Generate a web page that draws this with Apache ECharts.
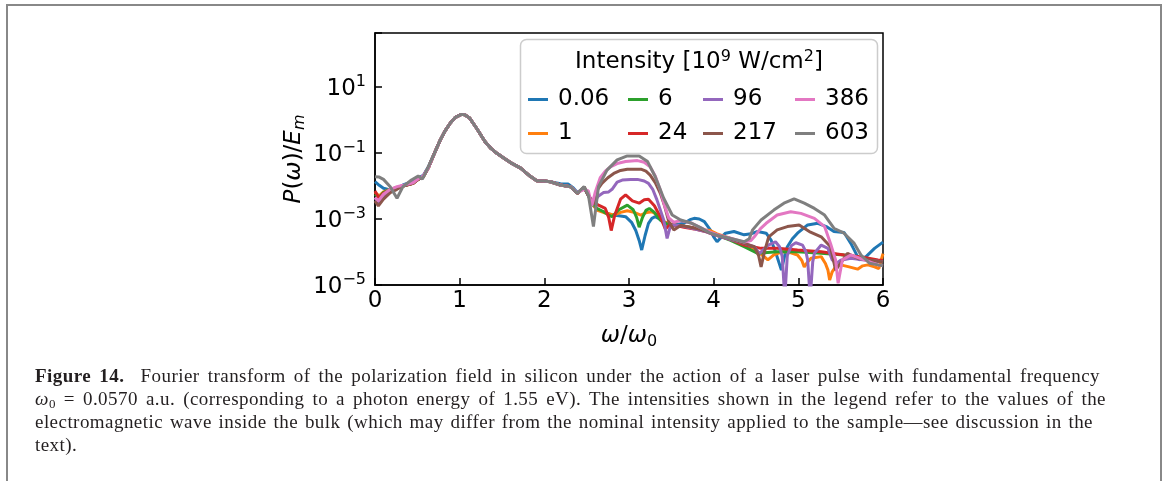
<!DOCTYPE html>
<html>
<head>
<meta charset="utf-8">
<script src="https://cdn.jsdelivr.net/npm/echarts@6/dist/echarts.min.js"></script>
<style>
  html, body { margin: 0; padding: 0; background: #fff; }
  #wrap { position: relative; width: 1165px; height: 481px; overflow: hidden; }
  #frame { position: absolute; left: 6px; top: 4px; width: 1152px; height: 520px; border: 2px solid #888; border-bottom: none; }
  #chart { position: absolute; left: 0; top: 0; width: 1165px; height: 481px; }
  #cap { position: absolute; left: 35px; top: 364px; font-family: 'Liberation Serif', serif; font-size: 19px; letter-spacing: 0.45px; line-height: 23px; color: #231f20; }
  #cap .ln { display: block; white-space: nowrap; text-align: justify; text-align-last: justify; }
  #cap .last { text-align: left; text-align-last: left; }
  #cap sub { font-size: 13px; vertical-align: -3px; line-height: 0; }
</style>
</head>
<body>
<div id="wrap">
  <div id="frame"></div>
  <div id="chart"></div>
  <div id="cap">
    <span class="ln" style="width:1065px"><b>Figure 14.</b>&nbsp;&nbsp;Fourier transform of the polarization field in silicon under the action of a laser pulse with fundamental frequency</span>
    <span class="ln" style="width:1071px"><i>ω</i><sub>0</sub> = 0.0570 a.u. (corresponding to a photon energy of 1.55 eV). The intensities shown in the legend refer to the values of the</span>
    <span class="ln" style="width:1058px">electromagnetic wave inside the bulk (which may differ from the nominal intensity applied to the sample—see discussion in the</span>
    <span class="ln last">text).</span>
  </div>
</div>
<script>
// Intensities [10^9 W/cm^2] (legend labels)
const intensities = ['0.06', '1', '6', '24', '96', '217', '386', '603'];
// y-axis tick exponents: labels 10^-5, 10^-3, 10^-1, 10^1
const tickExponents = [-5, -3, -1, 1];

// Each series: [omega/omega0, log10(P(omega)/E_m)]
const I_0_06 = [[0.00,-1.87],[0.05,-1.98],[0.10,-2.07],[0.18,-2.12],[0.26,-2.07],[0.33,-1.97],[0.43,-1.88],[0.51,-1.75],[0.57,-1.68],[0.63,-1.42],[0.70,-1.02],[0.77,-0.61],[0.83,-0.32],[0.89,-0.09],[0.95,0.08],[1.02,0.17],[1.06,0.16],[1.12,0.05],[1.20,-0.25],[1.30,-0.66],[1.37,-0.86],[1.44,-1.01],[1.52,-1.15],[1.60,-1.29],[1.72,-1.46],[1.83,-1.70],[1.91,-1.84],[2.00,-1.85],[2.07,-1.87],[2.19,-1.93],[2.28,-1.94],[2.34,-2.05],[2.39,-2.20],[2.47,-2.05],[2.52,-2.30],[2.58,-2.60],[2.64,-2.73],[2.72,-2.80],[2.80,-2.88],[2.88,-2.90],[2.96,-2.93],[3.03,-3.10],[3.08,-3.35],[3.12,-3.65],[3.15,-3.94],[3.19,-3.50],[3.23,-3.13],[3.27,-2.98],[3.31,-2.93],[3.36,-3.00],[3.41,-3.13],[3.47,-3.18],[3.53,-3.18],[3.65,-3.13],[3.72,-3.02],[3.77,-2.98],[3.83,-3.00],[3.89,-3.08],[3.96,-3.33],[4.00,-3.54],[4.04,-3.69],[4.09,-3.55],[4.14,-3.43],[4.24,-3.38],[4.36,-3.48],[4.44,-3.45],[4.52,-3.38],[4.62,-3.43],[4.68,-3.65],[4.73,-3.99],[4.80,-4.55],[4.84,-4.10],[4.87,-3.84],[4.93,-3.60],[4.99,-3.43],[5.11,-3.18],[5.23,-3.13],[5.33,-3.23],[5.42,-3.38],[5.54,-3.41],[5.62,-3.74],[5.72,-4.24],[5.80,-4.14],[5.90,-3.89],[6.00,-3.70]];
const I_1 = [[0.00,-2.20],[0.05,-2.30],[0.10,-2.18],[0.18,-2.10],[0.26,-2.05],[0.33,-2.00],[0.45,-1.92],[0.51,-1.80],[0.57,-1.72],[0.63,-1.45],[0.70,-1.02],[0.77,-0.61],[0.83,-0.32],[0.89,-0.09],[0.95,0.08],[1.02,0.17],[1.06,0.16],[1.12,0.05],[1.20,-0.25],[1.30,-0.66],[1.37,-0.86],[1.44,-1.01],[1.52,-1.15],[1.60,-1.29],[1.72,-1.46],[1.83,-1.70],[1.91,-1.84],[2.00,-1.85],[2.07,-1.87],[2.19,-1.97],[2.31,-2.02],[2.39,-2.22],[2.47,-2.04],[2.52,-2.28],[2.58,-2.58],[2.62,-2.73],[2.72,-2.82],[2.82,-2.88],[2.90,-2.80],[2.98,-2.75],[3.06,-2.80],[3.14,-2.88],[3.21,-2.80],[3.27,-2.78],[3.35,-2.90],[3.41,-3.08],[3.53,-3.18],[3.65,-3.22],[3.77,-3.27],[3.89,-3.33],[3.96,-3.35],[4.04,-3.45],[4.20,-3.59],[4.36,-3.74],[4.52,-3.99],[4.60,-4.15],[4.64,-4.24],[4.71,-4.09],[4.80,-4.00],[4.87,-3.99],[4.99,-4.09],[5.04,-4.25],[5.07,-4.45],[5.11,-4.30],[5.15,-4.19],[5.27,-4.14],[5.32,-4.35],[5.35,-4.55],[5.37,-4.85],[5.40,-4.60],[5.44,-4.45],[5.50,-4.39],[5.60,-4.45],[5.70,-4.52],[5.76,-4.42],[5.82,-4.39],[5.90,-4.45],[5.95,-4.50],[6.00,-4.05]];
const I_6 = [[0.00,-2.25],[0.05,-2.35],[0.10,-2.20],[0.18,-2.10],[0.26,-2.05],[0.33,-2.00],[0.45,-1.92],[0.51,-1.80],[0.57,-1.72],[0.63,-1.45],[0.70,-1.02],[0.77,-0.61],[0.83,-0.32],[0.89,-0.09],[0.95,0.08],[1.02,0.17],[1.06,0.16],[1.12,0.05],[1.20,-0.25],[1.30,-0.66],[1.37,-0.86],[1.44,-1.01],[1.52,-1.15],[1.60,-1.29],[1.72,-1.46],[1.83,-1.70],[1.91,-1.84],[2.00,-1.85],[2.07,-1.87],[2.19,-1.97],[2.31,-2.02],[2.39,-2.22],[2.47,-2.04],[2.52,-2.28],[2.58,-2.55],[2.62,-2.68],[2.70,-2.78],[2.76,-2.88],[2.80,-2.93],[2.88,-2.72],[2.98,-2.58],[3.05,-2.72],[3.09,-2.95],[3.12,-3.25],[3.16,-2.95],[3.20,-2.74],[3.24,-2.68],[3.30,-2.80],[3.37,-3.03],[3.45,-3.15],[3.53,-3.18],[3.65,-3.22],[3.77,-3.28],[3.89,-3.35],[4.00,-3.45],[4.20,-3.65],[4.36,-3.84],[4.52,-4.04],[4.60,-4.02],[4.75,-3.99],[4.99,-3.99],[5.27,-4.04],[5.54,-4.09],[5.75,-4.18],[5.94,-4.28],[6.00,-4.30]];
const I_24 = [[0.00,-2.15],[0.05,-2.38],[0.10,-2.22],[0.18,-2.12],[0.26,-2.05],[0.33,-2.00],[0.45,-1.92],[0.51,-1.80],[0.57,-1.72],[0.63,-1.45],[0.70,-1.02],[0.77,-0.61],[0.83,-0.32],[0.89,-0.09],[0.95,0.08],[1.02,0.17],[1.06,0.16],[1.12,0.05],[1.20,-0.25],[1.30,-0.66],[1.37,-0.86],[1.44,-1.01],[1.52,-1.15],[1.60,-1.29],[1.72,-1.46],[1.83,-1.70],[1.91,-1.84],[2.00,-1.85],[2.07,-1.87],[2.19,-1.97],[2.31,-2.02],[2.39,-2.22],[2.47,-2.04],[2.52,-2.28],[2.58,-2.50],[2.64,-2.58],[2.72,-2.68],[2.76,-2.95],[2.79,-3.35],[2.83,-2.90],[2.90,-2.40],[2.96,-2.27],[3.04,-2.45],[3.12,-2.52],[3.18,-2.42],[3.23,-2.40],[3.30,-2.60],[3.37,-2.93],[3.43,-3.31],[3.47,-3.20],[3.53,-3.18],[3.65,-3.25],[3.77,-3.30],[3.89,-3.37],[4.00,-3.47],[4.20,-3.62],[4.36,-3.79],[4.56,-3.89],[4.75,-3.89],[4.99,-3.94],[5.27,-3.99],[5.54,-4.09],[5.75,-4.15],[5.94,-4.24],[6.00,-4.26]];
const I_96 = [[0.00,-2.35],[0.04,-2.50],[0.10,-2.30],[0.18,-2.15],[0.26,-2.08],[0.33,-2.00],[0.45,-1.90],[0.51,-1.78],[0.57,-1.70],[0.63,-1.45],[0.70,-1.02],[0.77,-0.61],[0.83,-0.32],[0.89,-0.09],[0.95,0.08],[1.02,0.17],[1.06,0.16],[1.12,0.05],[1.20,-0.25],[1.30,-0.66],[1.37,-0.86],[1.44,-1.01],[1.52,-1.15],[1.60,-1.29],[1.72,-1.46],[1.83,-1.70],[1.91,-1.84],[2.00,-1.85],[2.07,-1.87],[2.19,-1.97],[2.31,-2.02],[2.39,-2.22],[2.47,-2.04],[2.52,-2.28],[2.58,-2.50],[2.64,-2.30],[2.70,-2.20],[2.76,-2.18],[2.80,-2.10],[2.86,-1.88],[2.92,-1.82],[3.02,-1.80],[3.10,-1.80],[3.18,-1.85],[3.23,-1.92],[3.28,-2.10],[3.33,-2.42],[3.38,-2.80],[3.41,-3.03],[3.45,-3.59],[3.48,-3.30],[3.51,-3.18],[3.61,-3.20],[3.77,-3.30],[3.89,-3.37],[4.00,-3.47],[4.20,-3.62],[4.36,-3.74],[4.48,-3.84],[4.54,-4.05],[4.58,-3.95],[4.64,-3.80],[4.73,-3.69],[4.78,-3.85],[4.81,-4.14],[4.84,-5.40],[4.87,-4.10],[4.92,-3.80],[4.97,-3.72],[5.05,-3.79],[5.09,-4.00],[5.11,-4.24],[5.14,-5.40],[5.17,-4.30],[5.19,-4.04],[5.27,-3.79],[5.35,-3.89],[5.40,-4.24],[5.45,-4.35],[5.50,-4.25],[5.62,-4.19],[5.78,-4.24],[5.94,-4.28],[6.00,-4.30]];
const I_217 = [[0.00,-2.45],[0.04,-2.60],[0.10,-2.40],[0.18,-2.20],[0.26,-2.10],[0.33,-2.00],[0.45,-1.92],[0.51,-1.80],[0.57,-1.72],[0.63,-1.45],[0.70,-1.02],[0.77,-0.61],[0.83,-0.32],[0.89,-0.09],[0.95,0.08],[1.02,0.17],[1.06,0.16],[1.12,0.05],[1.20,-0.25],[1.30,-0.66],[1.37,-0.86],[1.44,-1.01],[1.52,-1.15],[1.60,-1.29],[1.72,-1.46],[1.83,-1.70],[1.91,-1.84],[2.00,-1.85],[2.07,-1.87],[2.19,-1.97],[2.31,-2.02],[2.39,-2.22],[2.47,-2.04],[2.52,-2.28],[2.58,-2.55],[2.63,-2.10],[2.68,-1.92],[2.75,-1.75],[2.82,-1.62],[2.90,-1.53],[2.98,-1.49],[3.14,-1.49],[3.20,-1.55],[3.25,-1.67],[3.31,-1.90],[3.37,-2.22],[3.42,-2.60],[3.47,-3.08],[3.53,-3.33],[3.61,-3.20],[3.73,-3.25],[3.85,-3.32],[4.00,-3.45],[4.20,-3.60],[4.36,-3.74],[4.48,-3.84],[4.53,-4.10],[4.56,-4.45],[4.60,-3.99],[4.65,-3.54],[4.75,-3.33],[4.87,-3.23],[5.01,-3.18],[5.13,-3.38],[5.27,-3.54],[5.38,-3.84],[5.44,-4.55],[5.50,-4.34],[5.58,-4.04],[5.70,-4.19],[5.94,-4.28],[6.00,-4.30]];
const I_386 = [[0.00,-2.35],[0.04,-2.45],[0.10,-2.25],[0.18,-2.10],[0.26,-2.02],[0.33,-1.98],[0.45,-1.90],[0.51,-1.78],[0.57,-1.70],[0.63,-1.45],[0.70,-1.02],[0.77,-0.61],[0.83,-0.32],[0.89,-0.09],[0.95,0.08],[1.02,0.17],[1.06,0.16],[1.12,0.05],[1.20,-0.25],[1.30,-0.66],[1.37,-0.86],[1.44,-1.01],[1.52,-1.15],[1.60,-1.29],[1.72,-1.46],[1.83,-1.70],[1.91,-1.84],[2.00,-1.85],[2.07,-1.87],[2.19,-1.97],[2.31,-2.02],[2.39,-2.20],[2.47,-2.10],[2.52,-2.15],[2.56,-2.60],[2.60,-2.20],[2.66,-1.75],[2.72,-1.55],[2.78,-1.42],[2.86,-1.32],[2.96,-1.26],[3.10,-1.23],[3.18,-1.28],[3.25,-1.42],[3.31,-1.70],[3.37,-2.12],[3.42,-2.60],[3.47,-2.97],[3.53,-3.10],[3.61,-3.05],[3.73,-3.12],[3.85,-3.27],[3.96,-3.40],[4.05,-3.48],[4.20,-3.58],[4.36,-3.70],[4.44,-3.65],[4.48,-3.54],[4.55,-3.30],[4.62,-3.13],[4.75,-2.88],[4.91,-2.78],[5.03,-2.83],[5.19,-2.98],[5.31,-3.23],[5.38,-3.74],[5.44,-4.24],[5.47,-4.95],[5.52,-4.24],[5.62,-4.09],[5.78,-4.24],[5.94,-4.39],[6.00,-4.42]];
const I_603 = [[0.00,-1.72],[0.05,-1.73],[0.10,-1.80],[0.18,-2.02],[0.26,-2.37],[0.33,-2.02],[0.43,-1.82],[0.51,-1.70],[0.56,-1.79],[0.63,-1.42],[0.70,-1.02],[0.77,-0.61],[0.83,-0.32],[0.89,-0.09],[0.95,0.08],[1.02,0.17],[1.06,0.16],[1.12,0.05],[1.20,-0.25],[1.30,-0.66],[1.37,-0.86],[1.44,-1.01],[1.52,-1.15],[1.60,-1.29],[1.72,-1.46],[1.83,-1.70],[1.91,-1.84],[2.00,-1.85],[2.07,-1.87],[2.19,-1.97],[2.31,-2.02],[2.39,-2.22],[2.47,-2.02],[2.52,-2.27],[2.58,-3.23],[2.64,-2.02],[2.74,-1.52],[2.86,-1.21],[2.98,-1.09],[3.12,-1.09],[3.22,-1.26],[3.31,-1.72],[3.41,-2.37],[3.51,-2.88],[3.61,-3.03],[3.73,-3.12],[3.85,-3.27],[3.96,-3.43],[4.05,-3.50],[4.20,-3.59],[4.36,-3.69],[4.42,-3.60],[4.46,-3.33],[4.56,-3.03],[4.71,-2.73],[4.83,-2.52],[4.95,-2.39],[5.07,-2.52],[5.19,-2.68],[5.31,-2.88],[5.42,-3.28],[5.54,-3.43],[5.66,-3.74],[5.74,-4.09],[5.84,-4.34],[5.94,-4.39],[6.00,-4.42]];

const seriesData = [I_0_06, I_1, I_6, I_24, I_96, I_217, I_386, I_603];
const colors = ['#1f77b4', '#ff7f0e', '#2ca02c', '#d62728', '#9467bd', '#8c564b', '#e377c2', '#7f7f7f'];

const FONT = 'DejaVu Sans';
const FS = 23;
const SUP = 16;

const chart = echarts.init(document.getElementById('chart'), null, { renderer: 'canvas' });

function legendCol(names, left) {
  return {
    data: names, left: left, top: 88, orient: 'vertical', padding: 0,
    itemWidth: 20, itemHeight: 3, itemGap: 11, icon: 'rect', selectedMode: false,
    textStyle: { fontFamily: FONT, fontSize: FS, color: '#000', lineHeight: 23, padding: [0, 0, 0, 5] }
  };
}

const option = {
  animation: false,
  backgroundColor: 'transparent',
  grid: { left: 375, top: 33, width: 508, height: 252, show: true, borderColor: '#000', borderWidth: 1.5, backgroundColor: 'transparent' },
  xAxis: {
    type: 'value', min: 0, max: 6, interval: 1,
    axisLine: { show: true, onZero: false, lineStyle: { color: '#000', width: 1.5 } },
    axisTick: { show: true, inside: true, length: 7, lineStyle: { color: '#000', width: 1.5 } },
    axisLabel: { color: '#000', fontSize: FS, fontFamily: FONT, margin: 5 },
    splitLine: { show: false },
    name: '{i|ω}{n|/}{i|ω}{b|0}',
    nameLocation: 'middle', nameGap: 37,
    nameTextStyle: {
      rich: {
        i: { fontFamily: FONT, fontStyle: 'italic', fontSize: FS, color: '#000', lineHeight: 28 },
        n: { fontFamily: FONT, fontSize: FS, color: '#000', lineHeight: 28 },
        b: { fontFamily: FONT, fontSize: SUP, color: '#000', verticalAlign: 'bottom', lineHeight: 18 }
      }
    }
  },
  yAxis: {
    type: 'value', min: -5, max: 2.636, interval: 2,
    axisLine: { show: true, onZero: false, lineStyle: { color: '#000', width: 1.5 } },
    axisTick: { show: true, inside: true, length: 7, lineStyle: { color: '#000', width: 1.5 } },
    axisLabel: {
      margin: 9,
      formatter: function (v) {
        if (tickExponents.indexOf(Math.round(v)) < 0 || Math.abs(v - Math.round(v)) > 1e-6) return '';
        const e = Math.round(v);
        return '{m|10}{s|' + (e < 0 ? '\u2212' : '') + Math.abs(e) + '}';
      },
      rich: {
        m: { fontFamily: FONT, fontSize: FS, color: '#000', lineHeight: 26, padding: [4, 0, 0, 0] },
        s: { fontFamily: FONT, fontSize: SUP, color: '#000', verticalAlign: 'top', lineHeight: 16 }
      }
    },
    splitLine: { show: false },
    name: '{i|P}{n|(}{i|ω}{n|)/}{i|E}{b|m}',
    nameLocation: 'middle', nameRotate: 90, nameGap: 67,
    nameTextStyle: {
      rich: {
        i: { fontFamily: FONT, fontStyle: 'italic', fontSize: FS, color: '#000', lineHeight: 28 },
        n: { fontFamily: FONT, fontSize: FS, color: '#000', lineHeight: 28 },
        b: { fontFamily: FONT, fontStyle: 'italic', fontSize: SUP, color: '#000', verticalAlign: 'bottom', lineHeight: 18 }
      }
    }
  },
  legend: [
    legendCol([intensities[0], intensities[1]], 528),
    legendCol([intensities[2], intensities[3]], 628),
    legendCol([intensities[4], intensities[5]], 703),
    legendCol([intensities[6], intensities[7]], 795)
  ],
  graphic: [
    { type: 'rect', z: 3, shape: { x: 520.5, y: 39.5, width: 357, height: 114, r: 6 },
      style: { fill: 'rgba(255,255,255,0.8)', stroke: '#cccccc', lineWidth: 1.5 } },
    { type: 'text', z: 4, x: 699, y: 62,
      style: {
        text: '{n|Intensity [10}{s|9}{n| W/cm}{s|2}{n|]}',
        align: 'center', verticalAlign: 'middle',
        rich: {
          n: { fontFamily: FONT, fontSize: FS, fill: '#000', lineHeight: 26 },
          s: { fontFamily: FONT, fontSize: SUP, fill: '#000', verticalAlign: 'top', lineHeight: 18 }
        }
      } }
  ],
  series: intensities.map(function (name, k) {
    return {
      name: name, type: 'line', data: seriesData[k],
      showSymbol: false, symbol: 'none', smooth: false, clip: true,
      color: colors[k],
      lineStyle: { color: colors[k], width: 3 },
      z: 2 + k * 0.01
    };
  })
};
chart.setOption(option);
</script>
</body>
</html>
